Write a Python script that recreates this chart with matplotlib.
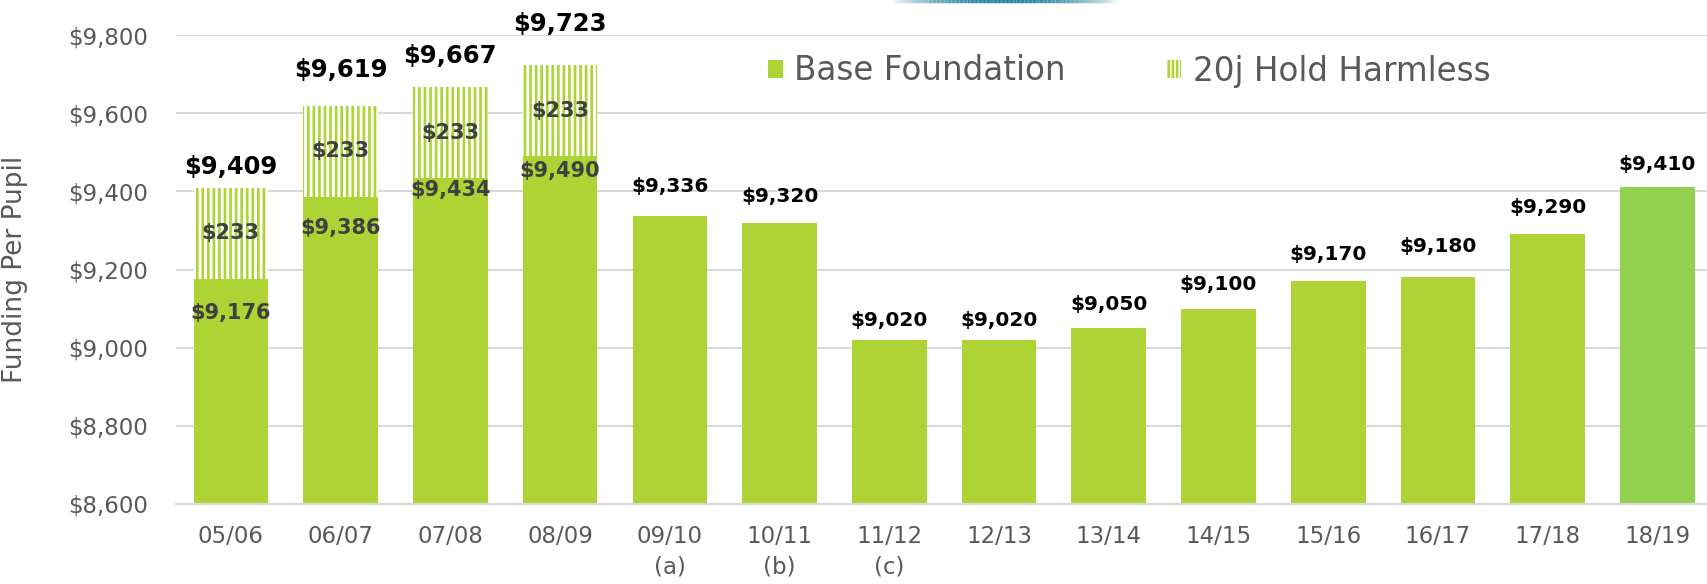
import matplotlib
matplotlib.use("Agg")
import matplotlib.pyplot as plt
import numpy as np
from matplotlib.patches import Patch
from matplotlib.collections import LineCollection

# ---- data ----
categories = ['05/06', '06/07', '07/08', '08/09', '09/10\n(a)', '10/11\n(b)', '11/12\n(c)',
              '12/13', '13/14', '14/15', '15/16', '16/17', '17/18', '18/19']
base_foundation = [9176, 9386, 9434, 9490, 9336, 9320, 9020, 9020, 9050, 9100, 9170, 9180, 9290, 9410]
hold_harmless = [233, 233, 233, 233, 0, 0, 0, 0, 0, 0, 0, 0, 0, 0]
yticks = [8600, 8800, 9000, 9200, 9400, 9600, 9800]

# ---- style / layout ----
green = '#ADD434'
green_last = '#92D050'
grid_c = '#D9D9D9'
text_gray = '#595959'
inner_c = '#404040'
total_offset_px = [21, 36, 31, 41, 30, 26, 19, 19, 24, 24, 27, 31, 27, 23]
base_offset_px = [34, 31, 12, 15]

plt.rcParams['font.family'] = ['DejaVu Sans']
plt.rcParams['hatch.linewidth'] = 1.9

fig = plt.figure(figsize=(17.08, 5.84), dpi=100)
ax = fig.add_axes([176 / 1708, 80 / 584, 1 - 176 / 1708, (504 - 35) / 584])

x = np.arange(len(categories))
colors = [green] * (len(categories) - 1) + [green_last]
ax.bar(x, base_foundation, width=0.68, color=colors, linewidth=0, zorder=2)
hmask = np.array(hold_harmless) > 0
ax.bar(x[hmask], np.array(hold_harmless)[hmask], bottom=np.array(base_foundation)[hmask],
       width=0.68, facecolor='white', edgecolor=green, hatch='|||', linewidth=0, zorder=2)

ax.set_ylim(8600, 9800)
ax.set_xlim(-0.5, 13.46)
ax.set_yticks(yticks)
ax.set_yticklabels([f'${v:,}' for v in yticks])
ax.set_xticks(x)
ax.set_xticklabels(categories, linespacing=1.4)
ax.tick_params(axis='both', length=0, colors=text_gray)
ax.tick_params(axis='y', labelsize=16.5, pad=20)
ax.tick_params(axis='x', labelsize=16.5, pad=15)
ax.yaxis.grid(True, color=grid_c, linewidth=1.5, zorder=0)
ax.set_axisbelow(True)
for s in ['top', 'right', 'left']:
    ax.spines[s].set_visible(False)
ax.spines['bottom'].set_color(grid_c)
ax.spines['bottom'].set_linewidth(1.5)
ax.set_ylabel('Funding Per Pupil', fontsize=19, color=text_gray)
ax.yaxis.set_label_coords(-(176 - 28) / (1708 - 176), 0.5)

# labels
for i in range(len(categories)):
    total = base_foundation[i] + hold_harmless[i]
    big = hold_harmless[i] > 0
    ax.annotate(f'${total:,}', xy=(x[i], total), xytext=(0, total_offset_px[i] * 0.72),
                textcoords='offset points', ha='center', va='center',
                fontsize=17.5 if big else 14.5, fontweight='bold', color='black',
                annotation_clip=False)
    if big:
        ax.text(x[i], base_foundation[i] + hold_harmless[i] / 2, f'${hold_harmless[i]:,}',
                ha='center', va='center', fontsize=15, fontweight='bold', color=inner_c, zorder=3)
        ax.annotate(f'${base_foundation[i]:,}', xy=(x[i], base_foundation[i]),
                    xytext=(0, -base_offset_px[i] * 0.72), textcoords='offset points',
                    ha='center', va='center', fontsize=15, fontweight='bold', color=inner_c,
                    zorder=3)

handles = [Patch(facecolor=green, linewidth=0, label='Base Foundation'),
           Patch(facecolor='white', edgecolor=green, hatch='||||', linewidth=0, label='20j Hold Harmless')]
leg = fig.legend(handles=handles, loc='center left', bbox_to_anchor=(768 / 1708, 1 - 71 / 584),
                 ncol=2, frameon=False, fontsize=23.5, handlelength=0.45, handleheight=0.45,
                 handletextpad=0.35, columnspacing=3.1, borderaxespad=0, borderpad=0)
for t in leg.get_texts():
    t.set_color(text_gray)

# decorative gradient line at top of slide
n = 60
xs = np.linspace(890 / 1708, 1120 / 1708, n + 1)
segs = [[(xs[k], 0.999), (xs[k + 1], 0.999)] for k in range(n)]
alphas = np.sin(np.linspace(0, np.pi, n)) ** 0.8
cols = [(0.16, 0.52, 0.62, a) for a in alphas]
lc = LineCollection(segs, colors=cols, linewidths=2.5, transform=fig.transFigure)
fig.add_artist(lc)

fig.savefig('out.png', dpi=100)
